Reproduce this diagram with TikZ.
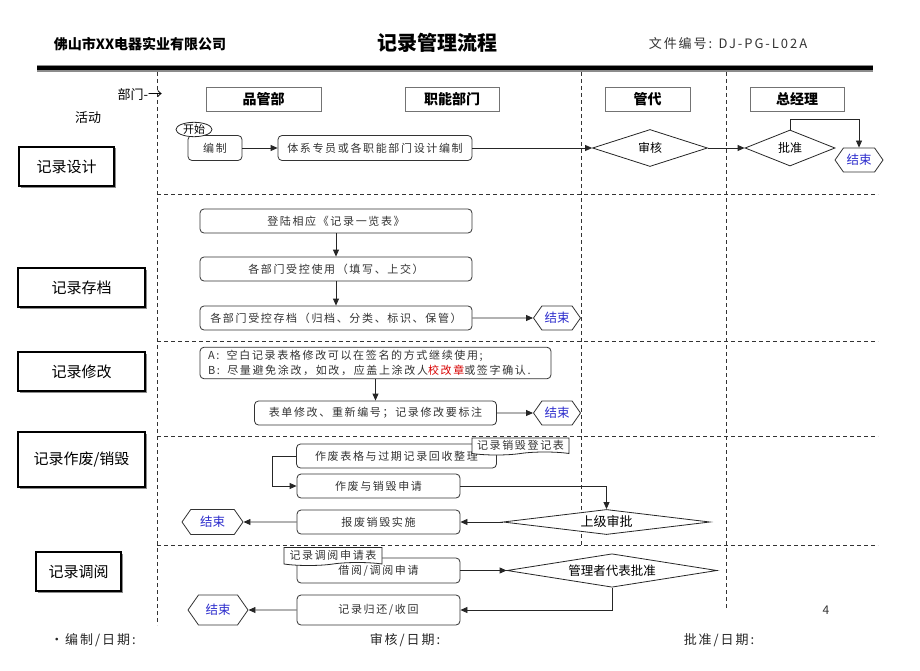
\documentclass[tikz,border=0pt]{standalone}
\usepackage{fontspec}
\setmainfont{Noto Sans CJK SC}
\newfontfamily\sunfont[LetterSpace=15]{Noto Sans CJK SC}
\usetikzlibrary{arrows.meta,shapes.geometric,shapes.symbols,shadows}

\newcommand{\boxfont}{\sunfont\fontsize{11}{14}\selectfont}
\definecolor{endblue}{RGB}{45,45,205}

\tikzset{
  flow/.style={-{Triangle[length=7pt,width=6pt]}, black!85, line width=0.8pt},
  lane/.style={dashed, black!80, line width=0.8pt, dash pattern=on 4pt off 3pt},
  deptbox/.style={draw=black!55, line width=0.8pt, minimum height=24pt,
    font=\fontsize{14}{16}\selectfont\bfseries},
  actbox/.style={draw, line width=2pt, fill=white,
    drop shadow={shadow xshift=1.5pt, shadow yshift=-1.5pt, fill=black!45, opacity=1},
    font=\fontsize{15}{17}\selectfont},
  procbox/.style={draw=black!80, line width=0.8pt, rounded corners=4pt, fill=white,
    minimum height=24pt, inner sep=2pt, text=black!80, font=\boxfont},
  decide/.style={diamond, draw=black!85, line width=0.8pt, fill=white, inner sep=0pt,
    aspect=4, font=\fontsize{12}{14}\selectfont},
  endhex/.style={signal, signal to=east and west, signal pointer angle=110,
    draw=black!80, line width=0.8pt, fill=white, inner sep=0pt, text=endblue,
    font=\fontsize{12.5}{14}\selectfont},
  docnote/.style={tape, tape bend top=none, tape bend height=3pt, draw=black!85,
    line width=0.8pt, fill=white, inner sep=1pt, text=black!80, font=\boxfont}
}

\begin{document}
\begin{tikzpicture}[x=1pt, y=-1pt]
\useasboundingbox (0,0) rectangle (920,671);

% title block
\node[font=\fontsize{14}{15}\selectfont\bfseries] (company) at (140,44) {佛山市XX电器实业有限公司};
\node[font=\fontsize{20}{22}\selectfont\bfseries] (title) at (437,43) {记录管理流程};
\node[font=\sunfont\fontsize{13}{15}\selectfont, text=black!80] (docno) at (728,44) {文件编号: DJ-PG-L02A};
\fill[black!45] (37,65) rectangle (873,72);
\fill[black] (37,66.5) rectangle (873,70.5);

% swim lanes
\draw[lane] (157,72) -- (157,625);
\draw[lane] (581,72) -- (581,545);
\draw[lane] (726,72) -- (726,610);
\draw[lane] (157,194) -- (878,194);
\draw[lane] (157,341) -- (878,341);
\draw[lane] (157,436) -- (878,436);
\draw[lane] (157,545) -- (878,545);

% departments
\node[font=\fontsize{13}{15}\selectfont] (deptlbl) at (140,95) {部门-{\Large→}};
\node[font=\fontsize{13}{15}\selectfont] (actlbl) at (88,118) {活动};
\node[deptbox, minimum width=115pt] (qa) at (263.5,99) {品管部};
\node[deptbox, minimum width=94pt] (func) at (452,99) {职能部门};
\node[deptbox, minimum width=85pt] (rep) at (647.5,99) {管代};
\node[deptbox, minimum width=94pt] (gm) at (797,99) {总经理};

% activities
\node[actbox, minimum width=95pt, minimum height=39pt] (design) at (66.5,166.5) {记录设计};
\node[actbox, minimum width=127pt, minimum height=39pt] (archive) at (81.5,287.5) {记录存档};
\node[actbox, minimum width=127pt, minimum height=39pt] (modify) at (81.5,371.5) {记录修改};
\node[actbox, minimum width=127pt, minimum height=55pt] (scrap) at (81.5,459.5) {记录作废/销毁};
\node[actbox, minimum width=85pt, minimum height=39pt] (lend) at (78.5,571.5) {记录调阅};

% record design
\node[procbox, minimum width=54pt, minimum height=25pt] (draft) at (215,148) {编制};
\node[ellipse, draw=black!85, line width=0.8pt, fill=white, inner sep=0pt,
  minimum width=36pt, minimum height=13pt, font=\fontsize{11}{12}\selectfont] (start) at (194,129.5) {开始};
\node[procbox, minimum width=194pt, minimum height=25pt] (drafttx) at (375,148) {体系专员或各职能部门设计编制};
\node[decide, minimum width=115pt, minimum height=37pt] (review) at (650,148) {审核};
\node[decide, minimum width=90pt, minimum height=36pt] (approve) at (790,148) {批准};
\node[endhex, minimum width=48pt, minimum height=24pt] (end1) at (859,160) {结束};
\draw[flow] (draft) -- (drafttx);
\draw[flow] (drafttx) -- (review);
\draw[flow] (review) -- (approve);
\draw[flow] (approve.north) -- ++(0,-10) -| (end1.north);

% record archive
\node[procbox, minimum width=272pt] (login) at (336,221) {登陆相应《记录一览表》};
\node[procbox, minimum width=272pt] (use) at (336,269) {各部门受控使用（填写、上交）};
\node[procbox, minimum width=272pt] (keep) at (336,318) {各部门受控存档（归档、分类、标识、保管）};
\node[endhex, minimum width=47pt, minimum height=24pt] (end2) at (557,318) {结束};
\draw[flow] (login) -- (use);
\draw[flow] (use) -- (keep);
\draw[flow] (keep) -- (end2);

% record modify
\node[procbox, text width=335pt, inner xsep=8pt, inner ysep=3pt, align=left,
  font=\sunfont\fontsize{11}{15}\selectfont] (rules) at (375.5,363)
  {A:\ \ 空白记录表格修改可以在签名的方式继续使用;\\
   B:\ \ 尽量避免涂改，如改，应盖上涂改人\textcolor{red!85!black}{校改章}或签字确认.};
\node[procbox, minimum width=242pt] (renum) at (375.5,413) {表单修改、重新编号；记录修改要标注};
\node[endhex, minimum width=47pt, minimum height=24pt] (end3) at (557,413) {结束};
\draw[flow] (rules) -- (renum);
\draw[flow] (renum) -- (end3);

% record scrap / destroy
\node[procbox, minimum width=200pt] (collect) at (396.5,456) {作废表格与过期记录回收整理};
\node[docnote, minimum width=97pt, minimum height=17pt] (scrapform) at (520.5,445) {记录销毁登记表};
\node[procbox, minimum width=163pt] (apply) at (378.5,486) {作废与销毁申请};
\node[decide, minimum width=207pt, minimum height=24pt, font=\fontsize{13}{15}\selectfont] (upper) at (606.5,522) {上级审批};
\node[procbox, minimum width=163pt] (destroy) at (378.5,522) {报废销毁实施};
\node[endhex, minimum width=61pt, minimum height=25pt] (end4) at (212.5,522) {结束};
\draw[flow] (collect.west) -- ++(-24,0) |- (apply.west);
\draw[flow] (apply.east) -| (upper.north);
\draw[flow] (upper) -- (destroy);
\draw[flow] (destroy) -- (end4);

% record lending
\node[procbox, minimum width=163pt, minimum height=25pt] (borrow) at (378.5,570.5) {借阅/调阅申请};
\node[docnote, minimum width=98pt, minimum height=18pt] (lendform) at (333,555) {记录调阅申请表};
\node[decide, minimum width=210pt, minimum height=25pt, font=\fontsize{12.5}{14}\selectfont] (mgr) at (612,570.5) {管理者代表批准};
\node[procbox, minimum width=163pt, minimum height=30pt] (back) at (378.5,610) {记录归还/收回};
\node[endhex, minimum width=60pt, minimum height=30pt] (end5) at (218,610) {结束};
\draw[flow] (borrow) -- (mgr);
\draw[flow] (mgr.south) |- (back.east);
\draw[flow] (back) -- (end5);

% footer
\node[font=\fontsize{12}{14}\selectfont, text=black!80] (page) at (826,610) {4};
\node[font=\sunfont\fontsize{13}{15}\selectfont, text=black!85] (signa) at (93,640) {•编制/日期:};
\node[font=\sunfont\fontsize{13}{15}\selectfont, text=black!85] (signb) at (405,640) {审核/日期:};
\node[font=\sunfont\fontsize{13}{15}\selectfont, text=black!85] (signc) at (719,640) {批准/日期:};
\end{tikzpicture}
\end{document}
